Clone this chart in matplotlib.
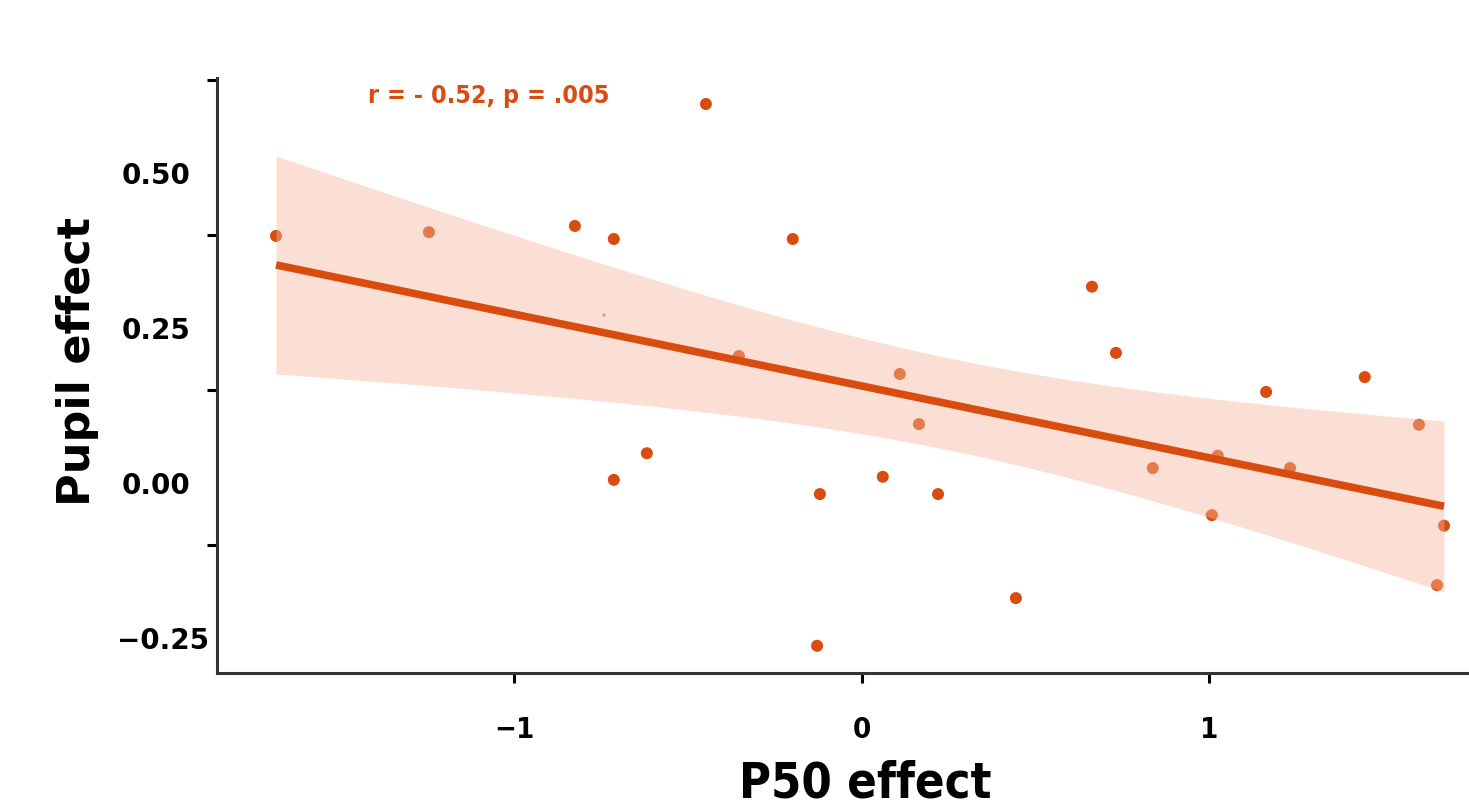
# Pupil effect vs P50 effect, with linear fit and 95% CI
import numpy as np
import matplotlib.pyplot as plt
import matplotlib.transforms as mtransforms

p50 = [-1.686, -1.246, -0.826, -0.714, -0.449, -0.354, -0.199, -0.619, -0.714,
       -0.121, -0.129, 0.060, 0.109, 0.164, 0.219, 0.443, 0.662, 0.731, 0.837,
       1.007, 1.024, 1.163, 1.232, 1.447, 1.603, 1.655, 1.675]
pupil = [0.399, 0.405, 0.415, 0.394, 0.612, 0.205, 0.394, 0.048, 0.005,
         -0.018, -0.263, 0.010, 0.176, 0.095, -0.018, -0.186, 0.317, 0.210, 0.024,
         -0.052, 0.044, 0.147, 0.024, 0.171, 0.094, -0.165, -0.069]
stray_x, stray_y = [-0.742], [0.271]

ytick_marks = [0.65, 0.40, 0.15, -0.10]
ytick_labels = [0.50, 0.25, 0.00, -0.25]
xticks = [-1, 0, 1]
annot = 'r = - 0.52, p = .005'

orange = '#D94C10'
spine = '#333333'

x = np.array(p50)
y = np.array(pupil)
n = len(x)
b, a = np.polyfit(x, y, 1)
resid = y - (a + b * x)
s = np.sqrt((resid ** 2).sum() / (n - 2))
xs = np.linspace(x.min(), x.max(), 200)
se = s * np.sqrt(1 / n + (xs - x.mean()) ** 2 / ((x - x.mean()) ** 2).sum())
fit = a + b * xs
t = 2.06

fig = plt.figure(figsize=(14.69, 8.1), dpi=100)
ax = fig.add_axes([0.1477, 0.1691, 0.8523, 0.7346])

ax.scatter(x, y, s=75, color=orange, edgecolors='none', zorder=1)
ax.scatter(stray_x, stray_y, s=6, color='#999999', edgecolors='none', zorder=1)
ax.fill_between(xs, fit - t * se, fit + t * se, color='#F7B79C', alpha=0.43,
                linewidth=0, zorder=2)
ax.plot(xs, fit, color=orange, lw=5.5, solid_capstyle='butt', zorder=3)

ax.set_xlim(-1.856, 1.747)
ax.set_ylim(-0.307, 0.654)

for side in ['top', 'right']:
    ax.spines[side].set_visible(False)
for side in ['left', 'bottom']:
    ax.spines[side].set_linewidth(2.2)
    ax.spines[side].set_color(spine)

ax.set_xticks(xticks)
ax.set_xticklabels(['\u22121', '0', '1'], fontsize=21, fontweight='bold',
                   family='DejaVu Sans', fontstretch='condensed')
ax.tick_params(axis='x', length=7, width=2.2, color='black', pad=24)

ax.set_yticks(ytick_marks)
ax.set_yticklabels([])
ax.set_yticks(ytick_labels, minor=True)
ax.set_yticklabels(['0.50', '0.25', '0.00', '\u22120.25'], minor=True,
                   fontsize=20, fontweight='bold')
ax.tick_params(axis='y', which='major', length=7, width=2.2, color='black')
ax.tick_params(axis='y', which='minor', length=0, pad=19)

# the -0.25 label sits further right in the original
lab = ax.yaxis.get_minorticklabels()[-1]
lab.set_transform(lab.get_transform() +
                  mtransforms.ScaledTranslation(19 / 100, 0, fig.dpi_scale_trans))

ax.set_xlabel('P50 effect', fontsize=35, fontweight='bold', family='DejaVu Sans',
              fontstretch='condensed')
ax.xaxis.set_label_coords(0.5176, -0.146)
ax.set_ylabel('Pupil effect', fontsize=32, fontweight='bold')
ax.yaxis.set_label_coords(-0.094, 0.524)

ax.text(0.121, 0.970, annot, transform=ax.transAxes, color=orange, fontsize=18,
        fontweight='bold', family='DejaVu Sans', fontstretch='condensed',
        va='center', ha='left')

fig.savefig('out.png', dpi=100)
